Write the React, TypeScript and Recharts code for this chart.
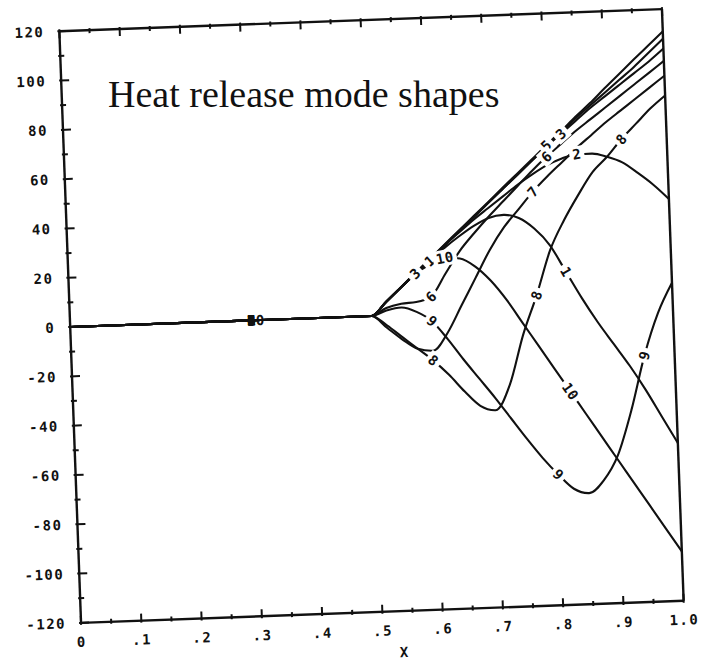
import { LineChart, Line, XAxis, YAxis, LabelList } from 'recharts'

// x positions of the sampled points (all modes are flat up to the flame at x = .5)
const xs = [0, 0.3, 0.5, 0.525, 0.55, 0.575, 0.6, 0.625, 0.65, 0.675, 0.7, 0.725, 0.75, 0.775, 0.8, 0.825, 0.85, 0.875, 0.9, 0.925, 0.95, 0.975, 1.0]

const mode1 = [0, 0, 0, 5.5, 11, 16.5, 21.5, 26.5, 31, 35, 38, 39, 37.5, 33, 26, 15, 4, -6, -15, -24, -34, -45, -56]
const mode2 = [0, 0, 0, 5.5, 11, 16.5, 22, 27.5, 32.5, 37.5, 42, 46.5, 51, 55, 58.5, 61, 62.5, 62.5, 61, 58.5, 54, 49, 43]
const mode3 = [0, 0, 0, 5.5, 11, 16.5, 22, 27.5, 33, 38.5, 44, 49.5, 55, 60.5, 66, 71, 76, 81, 85.5, 90, 94.5, 99, 104]
const mode4 = [0, 0, 0, 5.6, 11, 16.5, 22, 27.5, 33, 38.5, 44, 49.5, 55, 60.5, 66, 71.5, 77, 82, 87, 92, 97, 102.5, 108]
const mode5 = [0, 0, 0, 5.6, 11.1, 16.7, 22.2, 27.8, 33.3, 38.9, 44.4, 50, 55.5, 61, 66.6, 72, 77.7, 83, 88.8, 94.4, 100, 105.5, 111]
const mode6 = [0, 0, 0, 3, 4.5, 5, 7, 16, 25, 32, 38.5, 44.5, 50.5, 56.5, 62, 67, 72, 76.5, 81, 85.5, 90, 94.5, 99]
const mode7 = [0, 0, 0, -5, -10, -14, -15, -8, 3, 14, 25, 34, 41, 48, 54, 59.5, 65, 70, 75, 79.5, 84, 88.5, 93]
const mode8 = [0, 0, 0, -4, -9, -14, -19, -25, -32, -38, -40, -30, -10, 6, 24, 36, 46, 55, 61, 68, 74, 80, 85]
const mode9 = [0, 0, 0, 2, 3, 1, -3, -10.5, -19, -27, -35, -43.5, -52, -60, -67, -73, -75, -70, -60, -42, -20, -3, 9]
const mode10 = [0, 0, 0, 5.5, 11, 16.5, 20, 22.5, 22, 18.5, 12.5, 4.5, -5, -14.5, -24, -33.5, -43, -52.5, -62, -71.5, -81, -90.5, -100]

const modeNames = ['1', '2', '3', '4', '5', '6', '7', '8', '9', '10']
const modes = [mode1, mode2, mode3, mode4, mode5, mode6, mode7, mode8, mode9, mode10]
// indices of xs where each curve carries its number
const labelAt = [[1, 6, 15], [1, 16], [1, 5, 15], [1], [1, 14], [1, 6, 14], [1, 13], [1, 6, 13, 19], [1, 6, 14, 20], [1, 7, 15]]

const xTicks = [0, 0.05, 0.1, 0.15, 0.2, 0.25, 0.3, 0.35, 0.4, 0.45, 0.5, 0.55, 0.6, 0.65, 0.7, 0.75, 0.8, 0.85, 0.9, 0.95, 1.0]
const xTickLabels = ['0', '.1', '.2', '.3', '.4', '.5', '.6', '.7', '.8', '.9', '1.0']
const yTicks = [-120, -110, -100, -90, -80, -70, -60, -50, -40, -30, -20, -10, 0, 10, 20, 30, 40, 50, 60, 70, 80, 90, 100, 110, 120]

const rows = xs.map((x, i) => {
  const row: Record<string, number> = { x }
  modes.forEach((m, k) => { row['m' + (k + 1)] = m[i] })
  return row
})

const PLOT_W = 603
const PLOT_H = 592
const INK = '#111'
const tickFont = { fontFamily: 'DejaVu Sans Mono', fontWeight: 700, fontSize: 14, letterSpacing: 1.5, fill: INK }

function BottomTick(props: any) {
  const { x, y, payload } = props
  const idx = Math.round(payload.value * 20)
  const major = idx % 2 === 0
  return (
    <g>
      <line x1={x} x2={x} y1={y} y2={y - (major ? 9 : 5)} stroke={INK} strokeWidth={2} />
      {major && (
        <text x={x} y={y + 22} textAnchor="middle" {...tickFont}>{xTickLabels[idx / 2]}</text>
      )}
    </g>
  )
}

function TopTick(props: any) {
  const { x, y, payload } = props
  const major = Math.round(payload.value * 20) % 2 === 0
  return <line x1={x} x2={x} y1={y} y2={y + (major ? 9 : 5)} stroke={INK} strokeWidth={2} />
}

function LeftTick(props: any) {
  const { x, y, payload } = props
  const major = payload.value % 20 === 0
  return (
    <g>
      <line x1={x} x2={x + (major ? 10 : 6)} y1={y} y2={y} stroke={INK} strokeWidth={2} />
      {major && (
        <text x={x - 13} y={y} textAnchor="end" dominantBaseline="central" {...tickFont}>{payload.value}</text>
      )}
    </g>
  )
}

function RightTick(props: any) {
  const { x, y, payload } = props
  const major = payload.value % 20 === 0
  return <line x1={x} x2={x - (major ? 10 : 6)} y1={y} y2={y} stroke={INK} strokeWidth={2} />
}

function curveLabel(name: string, values: number[], spots: number[]) {
  return (props: any) => {
    const { index } = props
    if (!spots.includes(index)) return <g />
    const vb = props.viewBox || {}
    const x = props.x ?? vb.x
    const y = props.y ?? vb.y
    const cluster = index === 1
    let angle = 0
    if (!cluster) {
      const dx = (xs[index + 1] - xs[index - 1]) * PLOT_W
      const dy = -((values[index + 1] - values[index - 1]) * PLOT_H) / 240
      angle = (Math.atan2(dy, dx) * 180) / Math.PI
    }
    const w = name.length * 9 + 6
    return (
      <g transform={`translate(${x},${y}) rotate(${angle})`}>
        {!cluster && <rect x={-w / 2} y={-8} width={w} height={16} fill="#fff" />}
        <text
          x={cluster ? -4 : 0}
          textAnchor={cluster ? 'start' : 'middle'}
          dominantBaseline="central"
          {...tickFont}
          letterSpacing={0.5}
        >
          {name}
        </text>
      </g>
    )
  }
}

export default function App() {
  return (
    <div style={{ position: 'absolute', left: 0, top: 0, width: 701, height: 663, background: '#fff', overflow: 'hidden' }}>
      <div style={{ position: 'absolute', left: 0, top: 0, transform: 'rotate(-2.1deg)', transformOrigin: '371.5px 316px' }}>
        <LineChart width={701} height={663} data={rows} margin={{ top: 10, right: 18, bottom: 11, left: 10 }}>
          <XAxis
            dataKey="x"
            type="number"
            domain={[0, 1]}
            ticks={xTicks}
            interval={0}
            height={40}
            tickSize={0}
            tickLine={false}
            axisLine={{ stroke: INK, strokeWidth: 2.4 }}
            tick={<BottomTick />}
            label={{ value: 'X', position: 'insideBottom', offset: -6, dx: 21, style: { ...tickFont } }}
          />
          <XAxis
            xAxisId="top"
            orientation="top"
            dataKey="x"
            type="number"
            domain={[0, 1]}
            ticks={xTicks}
            interval={0}
            height={10}
            tickSize={0}
            tickLine={false}
            axisLine={{ stroke: INK, strokeWidth: 2.4 }}
            tick={<TopTick />}
          />
          <YAxis
            type="number"
            domain={[-120, 120]}
            ticks={yTicks}
            interval={0}
            width={60}
            tickSize={0}
            tickLine={false}
            axisLine={{ stroke: INK, strokeWidth: 2.4 }}
            tick={<LeftTick />}
          />
          <YAxis
            yAxisId="right"
            orientation="right"
            type="number"
            domain={[-120, 120]}
            ticks={yTicks}
            interval={0}
            width={10}
            tickSize={0}
            tickLine={false}
            axisLine={{ stroke: INK, strokeWidth: 2.4 }}
            tick={<RightTick />}
          />
          {modes.map((m, k) => (
            <Line
              key={modeNames[k]}
              dataKey={'m' + (k + 1)}
              type="monotone"
              stroke={INK}
              strokeWidth={2.1}
              dot={false}
              activeDot={false}
              isAnimationActive={false}
            >
              <LabelList dataKey={'m' + (k + 1)} content={curveLabel(modeNames[k], m, labelAt[k])} />
            </Line>
          ))}
        </LineChart>
      </div>
      <svg width={701} height={663} style={{ position: 'absolute', left: 0, top: 0, pointerEvents: 'none' }}>
        <text x={108} y={107} fontFamily="Liberation Serif, Times New Roman, serif" fontSize={38} fill={INK}>
          Heat release mode shapes
        </text>
      </svg>
    </div>
  )
}
